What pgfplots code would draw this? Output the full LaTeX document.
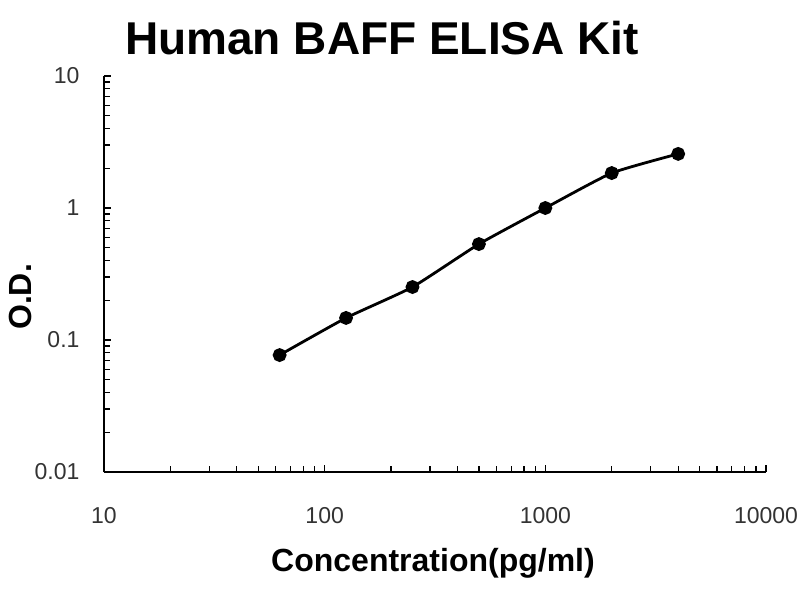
\documentclass[border=0pt]{standalone}
\usepackage{pgfplots}
\pgfplotsset{compat=1.18}
\usepackage{fontspec}
\setmainfont{Liberation Sans}
\begin{document}
\begin{tikzpicture}[x=1pt,y=1pt]
\useasboundingbox (-104,-128) rectangle (696,472);
\begin{axis}[
  at={(0,0)}, anchor=south west,
  scale only axis, width=662pt, height=396pt,
  xmode=log, ymode=log,
  xmin=10, xmax=10000, ymin=0.01, ymax=10,
  axis lines*=left,
  axis line style={line width=1.6pt},
  xtick={10,100,1000,10000},
  xticklabels={10,100,1000,10000},
  ytick={0.01,0.1,1,10},
  yticklabels={0.01,0.1,1,10},
  tick align=inside,
  major tick length=7pt, minor tick length=6pt,
  tick style={line width=1.2pt, black},
  /pgf/number format/assume math mode=true,
  every tick label/.append style={font=\fontsize{23}{26}\selectfont, text=black!80},
  xticklabel style={yshift=-32pt},
  yticklabel style={xshift=-21pt},
  clip=false,
]
\addplot[black, line width=2.8pt, smooth, tension=0.3, mark=*, mark size=5.5pt] coordinates {
 (62.5,0.0769) (125,0.147) (250,0.252) (500,0.533) (1000,1.0) (2000,1.84) (4000,2.57)
};
\end{axis}
\node[font=\fontsize{46}{50}\selectfont\bfseries] at (278,434) {Human BAFF ELISA Kit};
\node[font=\fontsize{32}{36}\selectfont\bfseries] at (329,-91) {Concentration(pg/ml)};
\node[font=\fontsize{32}{36}\selectfont\bfseries, rotate=90] at (-84,175) {O.D.};
\end{tikzpicture}
\end{document}
